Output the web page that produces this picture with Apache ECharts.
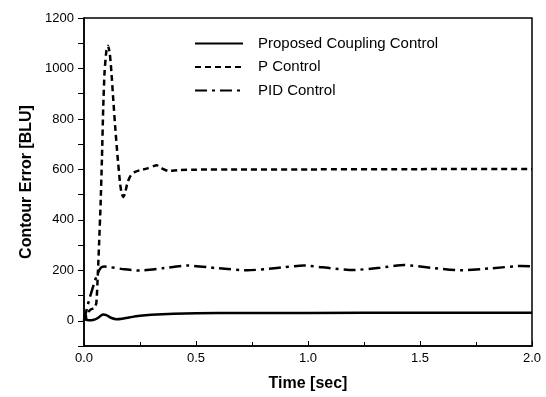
<!DOCTYPE html>
<html>
<head>
<meta charset="utf-8">
<script src="https://cdn.jsdelivr.net/npm/echarts@6/dist/echarts.min.js"></script>
<style>html,body{margin:0;padding:0;background:#fff}#c{width:546px;height:397px}</style>
</head>
<body>
<div id="c"></div>
<script>
// Time [sec] and Contour Error [BLU]
var seriesNames = ['Proposed Coupling Control', 'P Control', 'PID Control'];

var tProposed = [0, 0.005, 0.012, 0.02, 0.04, 0.06, 0.075, 0.085, 0.1, 0.12, 0.146, 0.17, 0.2, 0.25, 0.3, 0.4, 0.5, 0.7, 1.0, 1.5, 2.0];
var vProposed = [0, 25, 4, 2, 3, 10, 20, 25, 22, 12, 6, 8, 13, 20, 24, 28, 30, 31, 31, 32, 32];

var tP = [0, 0.015, 0.03, 0.045, 0.055, 0.062, 0.068, 0.074, 0.08, 0.086, 0.092, 0.1, 0.107, 0.115, 0.122, 0.131, 0.14, 0.15, 0.161, 0.168, 0.175, 0.183, 0.195, 0.21, 0.228, 0.25, 0.28, 0.31, 0.325, 0.345, 0.376, 0.42, 0.5, 0.7, 1.0, 1.5, 2.0];
var vP = [0, 30, 45, 50, 70, 190, 320, 460, 640, 850, 990, 1070, 1090, 1060, 990, 872, 760, 650, 545, 505, 490, 505, 550, 578, 590, 597, 603, 613, 616, 605, 594, 597, 599, 600, 600, 601, 602];

var tPID = [0, 0.022, 0.057, 0.075, 0.09, 0.12, 0.18, 0.25, 0.35, 0.46, 0.6, 0.73, 0.85, 0.98, 1.1, 1.2, 1.32, 1.43, 1.55, 1.68, 1.82, 1.95, 2.0];
var vPID = [0, 80, 180, 210, 215, 212, 204, 199, 208, 219, 208, 200, 208, 219, 208, 201, 210, 221, 210, 200, 208, 217, 216];

function pairs(t, v) { return t.map(function (x, i) { return [x, v[i]]; }); }

var chart = echarts.init(document.getElementById('c'), null, { renderer: 'canvas' });
var font = 'Liberation Sans, Arial, sans-serif';
chart.setOption({
  animation: false,
  backgroundColor: '#fff',
  textStyle: { fontFamily: font, color: '#000' },
  grid: { left: 84, right: 14, top: 18, bottom: 51, show: true, borderColor: '#000', borderWidth: 1.5, backgroundColor: 'transparent' },
  legend: {
    orient: 'vertical', left: 189, top: 31,
    itemWidth: 48, itemHeight: 14, itemGap: 8.5,
    itemStyle: { opacity: 0 },
    textStyle: { fontSize: 15, fontFamily: font, color: '#000', padding: [0, 0, 0, 10] },
    data: seriesNames
  },
  xAxis: {
    type: 'value', min: 0, max: 2, interval: 0.5,
    name: 'Time [sec]', nameLocation: 'middle', nameGap: 30,
    nameTextStyle: { fontSize: 16, fontWeight: 'bold', fontFamily: font, color: '#000' },
    axisLine: { onZero: false, lineStyle: { color: '#000', width: 1.5 } },
    axisTick: { inside: true, length: 5, lineStyle: { color: '#000' } },
    minorTick: { show: true, splitNumber: 2, length: 4, lineStyle: { color: '#000' } },
    splitLine: { show: false },
    axisLabel: { fontSize: 13, color: '#000', margin: 6, formatter: function (v) { return v.toFixed(1); } }
  },
  yAxis: {
    type: 'value', min: -100, max: 1200, interval: 100,
    name: 'Contour Error [BLU]', nameLocation: 'middle', nameGap: 45,
    nameTextStyle: { fontSize: 16, fontWeight: 'bold', fontFamily: font, color: '#000' },
    axisLine: { onZero: false, lineStyle: { color: '#000', width: 1.5 } },
    axisTick: { inside: false, length: 6, lineStyle: { color: '#000' } },
    splitLine: { show: false },
    axisLabel: { fontSize: 13, color: '#000', margin: 10, formatter: function (v) { return (v >= 0 && v % 200 === 0) ? String(v) : ''; } }
  },
  series: [
    { name: seriesNames[0], type: 'line', data: pairs(tProposed, vProposed), smooth: 0.2, symbol: 'none', lineStyle: { color: '#000', width: 2.5 }, itemStyle: { color: '#000' } },
    { name: seriesNames[1], type: 'line', data: pairs(tP, vP), smooth: 0.2, symbol: 'none', lineStyle: { color: '#000', width: 2.5, type: [6, 4] }, itemStyle: { color: '#000' } },
    { name: seriesNames[2], type: 'line', data: pairs(tPID, vPID), smooth: 0.2, symbol: 'none', lineStyle: { color: '#000', width: 2.5, type: [12, 5, 3, 5] }, itemStyle: { color: '#000' } }
  ]
});
</script>
</body>
</html>
